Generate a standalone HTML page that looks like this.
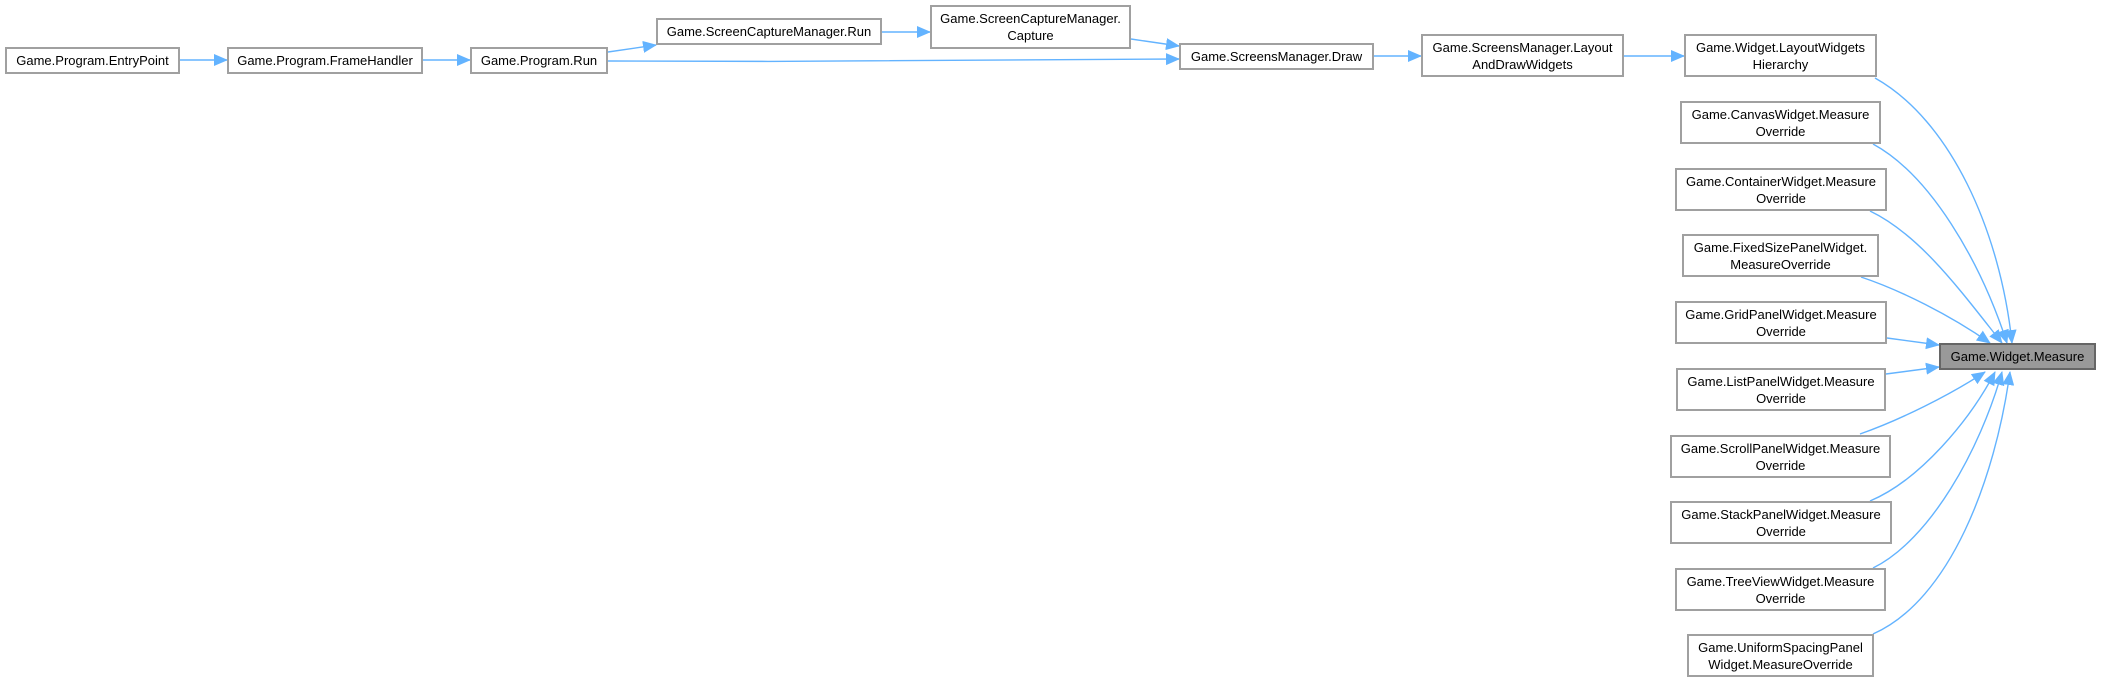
<!DOCTYPE html>
<html><head><meta charset="utf-8"><style>
html,body{margin:0;padding:0;background:#fff;width:2101px;height:683px;overflow:hidden}
.n{position:absolute;box-sizing:border-box;border:2px solid #a0a0a0;background:#fff;font:13px "Liberation Sans",sans-serif;color:#000;text-align:center;display:flex;align-items:center;justify-content:center;line-height:17px;white-space:nowrap}
svg{position:absolute;left:0;top:0}
</style></head><body>
<svg width="2101" height="683">
<defs><marker id="a" markerUnits="userSpaceOnUse" markerWidth="14" markerHeight="12" refX="13" refY="6" orient="auto"><path d="M0,0 L14,6 L0,12 z" fill="#63b3ff"/></marker></defs>
<g fill="none" stroke="#63b3ff" stroke-width="1.4" marker-end="url(#a)">
<path d="M180,60 L227,60"/>
<path d="M423,60 L470,60"/>
<path d="M608,52 L656,45"/>
<path d="M608,61 C800,62 1000,61 1179,59"/>
<path d="M882,32 L930,32"/>
<path d="M1131,39 L1179,46"/>
<path d="M1374,56 L1421,56"/>
<path d="M1624,56 L1684,56"/>
<path d="M1875,78 C1950,120 2000,230 2012,343"/>
<path d="M1873,144 C1930,175 1980,260 2007,343"/>
<path d="M1870,211 C1920,235 1960,290 2002,343"/>
<path d="M1861,277 C1900,290 1950,315 1990,343"/>
<path d="M1887,338 L1939,345"/>
<path d="M1886,374 L1939,367"/>
<path d="M1860,434 C1900,420 1950,395 1985,372"/>
<path d="M1870,501 C1920,480 1970,420 1995,372"/>
<path d="M1873,568 C1930,540 1980,450 2002,372"/>
<path d="M1873,634 C1950,600 1995,480 2010,372"/>
</g>
</svg>
<div class="n" style="left:5px;top:47px;width:175px;height:27px">Game.Program.EntryPoint</div>
<div class="n" style="left:227px;top:47px;width:196px;height:27px">Game.Program.FrameHandler</div>
<div class="n" style="left:470px;top:47px;width:138px;height:27px">Game.Program.Run</div>
<div class="n" style="left:656px;top:18px;width:226px;height:27px">Game.ScreenCaptureManager.Run</div>
<div class="n" style="left:930px;top:5px;width:201px;height:44px">Game.ScreenCaptureManager.<br>Capture</div>
<div class="n" style="left:1179px;top:43px;width:195px;height:27px">Game.ScreensManager.Draw</div>
<div class="n" style="left:1421px;top:34px;width:203px;height:43px">Game.ScreensManager.Layout<br>AndDrawWidgets</div>
<div class="n" style="left:1684px;top:34px;width:193px;height:43px">Game.Widget.LayoutWidgets<br>Hierarchy</div>
<div class="n" style="left:1680px;top:101px;width:201px;height:43px">Game.CanvasWidget.Measure<br>Override</div>
<div class="n" style="left:1675px;top:168px;width:212px;height:43px">Game.ContainerWidget.Measure<br>Override</div>
<div class="n" style="left:1682px;top:234px;width:197px;height:43px">Game.FixedSizePanelWidget.<br>MeasureOverride</div>
<div class="n" style="left:1675px;top:301px;width:212px;height:43px">Game.GridPanelWidget.Measure<br>Override</div>
<div class="n" style="left:1676px;top:368px;width:210px;height:43px">Game.ListPanelWidget.Measure<br>Override</div>
<div class="n" style="left:1670px;top:435px;width:221px;height:43px">Game.ScrollPanelWidget.Measure<br>Override</div>
<div class="n" style="left:1670px;top:501px;width:222px;height:43px">Game.StackPanelWidget.Measure<br>Override</div>
<div class="n" style="left:1675px;top:568px;width:211px;height:43px">Game.TreeViewWidget.Measure<br>Override</div>
<div class="n" style="left:1687px;top:634px;width:187px;height:43px">Game.UniformSpacingPanel<br>Widget.MeasureOverride</div>
<div class="n" style="left:1939px;top:343px;width:157px;height:27px;background:#999;border-color:#666">Game.Widget.Measure</div>
</body></html>
